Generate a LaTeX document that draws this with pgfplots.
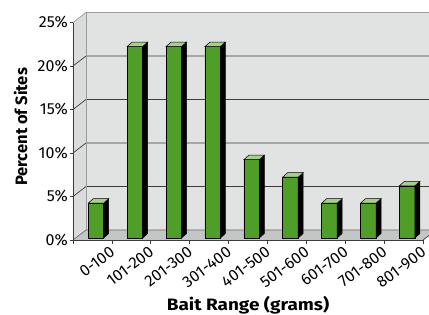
\documentclass[border=0pt]{standalone}
\usepackage{fontspec}
\setmainfont{Fira Sans}
\newfontfamily\widebold{Fira Sans}[FakeStretch=1.15]
\usepackage{pgfplots}
\usepackage{pgfplotstable}
\pgfplotsset{compat=1.18}
\definecolor{wallgray}{HTML}{E1E2E2}
\definecolor{sidegray}{HTML}{DADBDB}
\definecolor{floorgray}{HTML}{C4C5C5}
\definecolor{gridc}{HTML}{3C3C3C}
\definecolor{edgegray}{HTML}{9A9A9A}
\definecolor{bargreen}{HTML}{4E9E27}
\definecolor{topgreen}{HTML}{A3D187}
\newcommand\barval{0}
% side and top faces of a 3-D column; origin = top centre of the front face
\pgfdeclareplotmark{bar3d}{%
  \pgfmathsetlengthmacro\barH{\barval*8.7pt}%
  \pgfpathmoveto{\pgfpoint{7.75pt}{0pt}}%
  \pgfpathlineto{\pgfpoint{12.75pt}{4.5pt}}%
  \pgfpathlineto{\pgfpoint{12.75pt}{4.5pt-\barH}}%
  \pgfpathlineto{\pgfpoint{7.75pt}{-\barH}}%
  \pgfpathclose
  \pgfsetfillcolor{black}\pgfsetstrokecolor{black}\pgfsetlinewidth{0.5pt}%
  \pgfusepath{fill,stroke}%
  \pgfpathmoveto{\pgfpoint{-7.75pt}{0pt}}%
  \pgfpathlineto{\pgfpoint{-2.75pt}{4.5pt}}%
  \pgfpathlineto{\pgfpoint{12.75pt}{4.5pt}}%
  \pgfpathlineto{\pgfpoint{7.75pt}{0pt}}%
  \pgfpathclose
  \pgfsetfillcolor{topgreen}%
  \pgfusepath{fill,stroke}%
}
\pgfplotstableread{
x y
0.5 4
1.5 22
2.5 22
3.5 22
4.5 9
5.5 7
6.5 4
7.5 4
8.5 6
}\baitdata
\begin{document}
\begin{tikzpicture}
\path[use as bounding box] (-73pt,-74pt) rectangle (356pt,240pt);
\begin{axis}[
  at={(0pt,0pt)}, anchor=origin,
  x=38.9pt, y=8.7pt,
  xmin=0, xmax=9, ymin=0, ymax=25,
  clip=false, axis on top,
  axis x line*=bottom, axis y line*=left,
  axis line style={-, draw=gridc, line width=0.7pt},
  ytick={0,5,...,25},
  yticklabel={\pgfmathprintnumber{\tick}\%},
  xtick={0.5,1.5,...,8.5},
  xticklabels={0-100,101-200,201-300,301-400,401-500,501-600,601-700,701-800,801-900},
  minor xtick={0,1,...,9},
  major x tick style={draw=none},
  minor x tick style={draw=gridc, line width=0.7pt},
  y tick style={draw=gridc, line width=0.7pt},
  tick align=outside,
  major tick length=3pt, minor tick length=4pt,
  /pgf/number format/assume math mode=true,
  tick label style={font=\fontsize{16}{18}\selectfont},
  yticklabel style={inner xsep=2pt},
  xticklabel style={rotate=37, anchor=north east, inner sep=1pt, xshift=13pt, yshift=-11pt},
  xlabel={Bait Range (grams)}, ylabel={Percent of Sites},
  xlabel style={font=\fontsize{16.5}{18}\widebold\bfseries, at={(axis cs:4.5,0)}, anchor=north, yshift=-53pt},
  ylabel style={font=\fontsize{16.5}{18}\selectfont\bfseries, at={([xshift=-42pt]axis cs:0,13)}, anchor=south},
]
% walls and floor
\fill[wallgray] ([shift={(13pt,10pt)}]axis cs:0,0) rectangle ([shift={(13pt,10pt)}]axis cs:9,25);
\fill[sidegray] (axis cs:0,0) -- ([shift={(13pt,10pt)}]axis cs:0,0) -- ([shift={(13pt,10pt)}]axis cs:0,25) -- (axis cs:0,25) -- cycle;
\fill[floorgray] (axis cs:0,0) -- ([shift={(13pt,10pt)}]axis cs:0,0) -- ([shift={(13pt,10pt)}]axis cs:9,0) -- (axis cs:9,0) -- cycle;
\pgfplotsinvokeforeach{5,10,15,20}{
  \draw[gridc, line width=0.7pt] (axis cs:0,#1) -- ([shift={(13pt,10pt)}]axis cs:0,#1) -- ([shift={(13pt,10pt)}]axis cs:9,#1);
}
\draw[edgegray, line width=0.7pt] (axis cs:0,25) -- ([shift={(13pt,10pt)}]axis cs:0,25) -- ([shift={(13pt,10pt)}]axis cs:9,25);
\draw[edgegray, line width=0.7pt] ([shift={(13pt,10pt)}]axis cs:0,0) -- ([shift={(13pt,10pt)}]axis cs:0,25);
\draw[gridc!80, line width=0.6pt] (axis cs:0,0) -- ([shift={(13pt,10pt)}]axis cs:0,0) -- ([shift={(13pt,10pt)}]axis cs:9,0);
\draw[gridc, line width=0.7pt] (axis cs:9,0) -- ([shift={(13pt,10pt)}]axis cs:9,0);
% bars: front faces
\addplot[ybar, bar width=15.5pt, bar shift=0pt, xshift=3.5pt, yshift=2pt,
  fill=bargreen, draw=black, line width=0.5pt] table[x=x, y=y] {\baitdata};
% bars: side and top faces
\addplot[only marks, mark=bar3d, xshift=3.5pt, yshift=2pt,
  visualization depends on={rawy \as \barval}] table[x=x, y=y] {\baitdata};
\end{axis}
\end{tikzpicture}
\end{document}
